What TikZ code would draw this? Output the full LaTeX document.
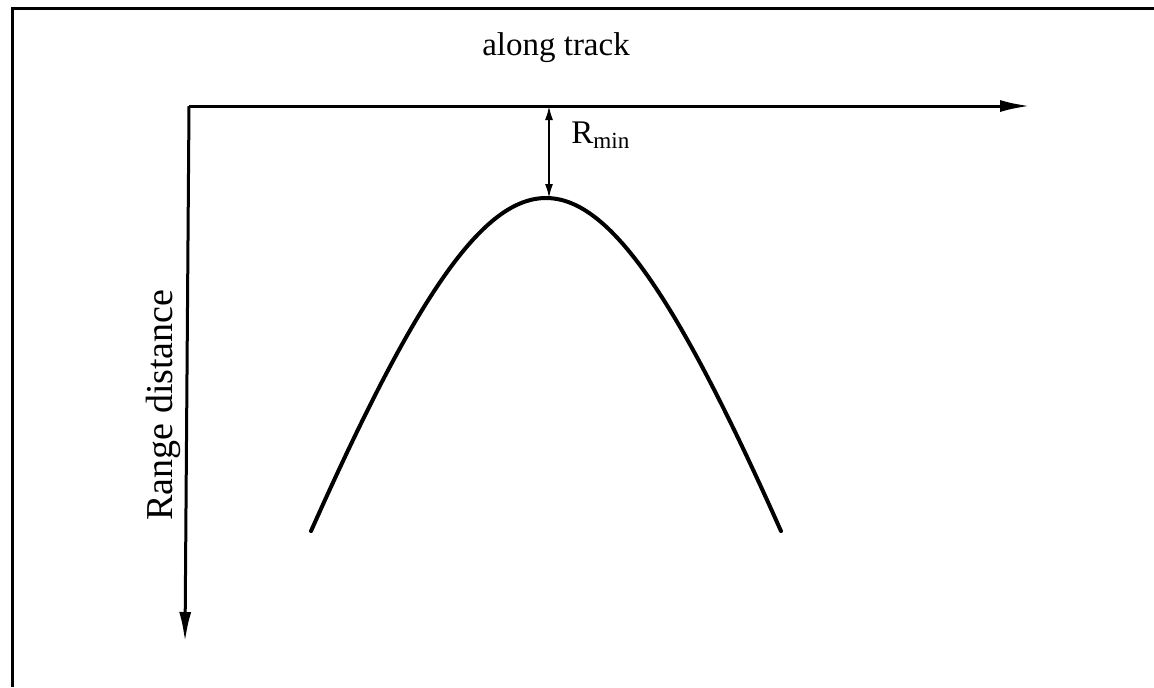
\documentclass[tikz,border=0pt]{standalone}
\usepackage{fontspec}
\setmainfont{Liberation Serif}
\usetikzlibrary{arrows.meta}
\begin{document}
\begin{tikzpicture}[x={(0.5pt,0)},y={(0,-0.5pt)},
  axis/.style={line width=1.5pt,-{Latex[length=15pt,width=6pt]}},
  dim/.style={line width=1pt,{Latex[length=7pt,width=4pt]}-{Latex[length=7pt,width=4pt]}},
  frame/.style={line width=1.5pt},
  lbl/.style={font=\fontsize{16.5}{19}\selectfont,inner sep=0pt}]
\useasboundingbox (0,0) rectangle (1154,687);
\draw[frame] (12,687) -- (12,8) -- (1154,8);
\coordinate (O) at (189,106);
\coordinate (X) at (1030,106);
\coordinate (Y) at (185,642);
\coordinate (T) at (549,106);
\coordinate (P) at (549,198);
\draw[axis] (O) -- (X);
\draw[axis] (O) -- (Y);
\draw[dim] (T) -- (P);
\draw[line width=2pt,line cap=round] plot[domain=-23.5:23.5,samples=81,smooth]
  ({546+10*\x},{198+27.75*(sqrt(289+\x*\x)-17)});
\node[lbl] (at) at (556,48) {along track};
\node[lbl,rotate=90,font=\fontsize{19}{22}\selectfont] (rd) at (163,405) {Range distance};
\node[lbl,anchor=west] (rm) at (571,135) {R\textsubscript{min}};
\end{tikzpicture}
\end{document}
